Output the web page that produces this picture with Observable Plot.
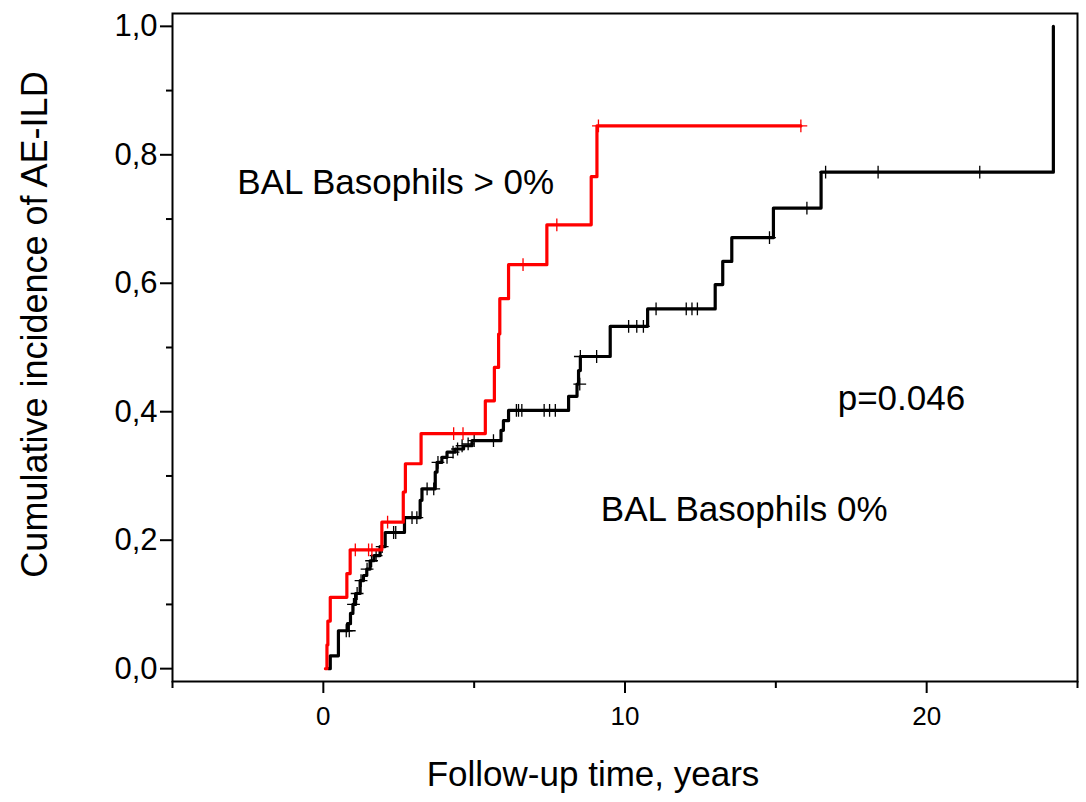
<!DOCTYPE html>
<html>
<head>
<meta charset="utf-8">
<script src="https://cdn.jsdelivr.net/npm/d3@7"></script>
<script src="https://cdn.jsdelivr.net/npm/@observablehq/plot@0.6"></script>
<style>
  html, body { margin: 0; padding: 0; background: #fff; }
  #chart { width: 1086px; height: 802px; }
</style>
</head>
<body>
<div id="chart"></div>
<script>
// ---- Data ----
// BAL Basophils > 0% (red): step points [time, cumulative incidence]
const redTime = [0.07, 0.12, 0.15, 0.23, 0.78, 0.89, 1.94, 2.65, 2.72, 3.24, 5.37, 5.67, 5.81, 5.85, 6.14, 7.41, 8.88, 9.07, 15.83];
const redCum  = [0, 0.037, 0.074, 0.111, 0.148, 0.185, 0.228, 0.275, 0.319, 0.366, 0.417, 0.469, 0.521, 0.576, 0.629, 0.691, 0.766, 0.845, 0.845];
// censored observations, red
const redCensTime = [1.06, 1.50, 1.61, 2.13, 4.32, 4.63, 6.62, 7.74, 9.12, 15.83];
const redCensCum  = [0.185, 0.185, 0.185, 0.228, 0.366, 0.366, 0.629, 0.691, 0.845, 0.845];

// BAL Basophils 0% (black)
const blackTime = [0.17, 0.23, 0.50, 0.80, 0.90, 0.98, 1.07, 1.22, 1.33, 1.44, 1.55, 1.68, 1.88, 2.05, 2.69, 3.21, 3.27, 3.71, 3.77, 3.93, 4.10, 4.37, 4.65, 4.93, 5.89, 5.97, 6.14, 8.13, 8.41, 8.46, 8.52, 9.51, 10.75, 12.99, 13.24, 13.54, 14.92, 16.50, 24.20];
const blackCum  = [0, 0.020, 0.059, 0.070, 0.086, 0.100, 0.117, 0.137, 0.145, 0.155, 0.168, 0.176, 0.190, 0.212, 0.235, 0.262, 0.280, 0.306, 0.321, 0.329, 0.337, 0.342, 0.347, 0.355, 0.371, 0.386, 0.402, 0.424, 0.443, 0.464, 0.486, 0.533, 0.560, 0.598, 0.634, 0.671, 0.717, 0.773, 1.000];
const blackCensTime = [0.76, 0.86, 1.00, 1.12, 1.25, 1.45, 1.60, 1.75, 1.95, 2.33, 2.40, 2.94, 3.10, 3.44, 3.66, 3.80, 4.10, 4.30, 4.45, 4.60, 4.80, 5.00, 5.64, 6.40, 6.47, 6.58, 7.32, 7.50, 7.69, 8.50, 8.52, 9.06, 10.12, 10.39, 10.61, 11.03, 12.03, 12.22, 12.40, 14.79, 16.03, 16.65, 18.39, 21.76];
const blackCensCum  = [0.059, 0.059, 0.100, 0.117, 0.137, 0.155, 0.168, 0.176, 0.190, 0.212, 0.212, 0.235, 0.235, 0.280, 0.280, 0.321, 0.329, 0.337, 0.342, 0.347, 0.350, 0.355, 0.355, 0.402, 0.402, 0.402, 0.402, 0.402, 0.402, 0.443, 0.486, 0.486, 0.533, 0.533, 0.533, 0.560, 0.560, 0.560, 0.560, 0.671, 0.717, 0.773, 0.773, 0.773];

// axis ticks
const xMajor = [0, 10, 20];
const xMinor = [-5, 5, 15, 25];
const yMajor = [0, 0.2, 0.4, 0.6, 0.8, 1.0];
const yMinor = [0.1, 0.3, 0.5, 0.7, 0.9];

// annotations
const annText = ["BAL Basophils > 0%", "p=0.046", "BAL Basophils 0%"];
const annX    = [-2.85, 17.05, 9.2];
const annY    = [0.757, 0.42, 0.248];

const xTitle = "Follow-up time, years";
const yTitle = "Cumulative incidence of AE-ILD";

// ---- Build tables ----
const red = redTime.map((t, i) => ({t, v: redCum[i]}));
const black = blackTime.map((t, i) => ({t, v: blackCum[i]}));
const redC = redCensTime.map((t, i) => ({t, v: redCensCum[i]}));
const blackC = blackCensTime.map((t, i) => ({t, v: blackCensCum[i]}));
const ann = annText.map((s, i) => ({s, x: annX[i], y: annY[i]}));

const font = "Liberation Sans, Arial, Helvetica, sans-serif";

const chart = Plot.plot({
  width: 1086,
  height: 802,
  marginLeft: 172,
  marginRight: 9,
  marginTop: 13,
  marginBottom: 121,
  style: {fontFamily: font, background: "#fff", color: "#000"},
  x: {domain: [-5, 25], label: null},
  y: {domain: [-0.02, 1.02], label: null},
  marks: [
    Plot.axisX({ticks: xMajor, tickSize: 12, tickPadding: 13, fontSize: 26, strokeWidth: 2, label: null, tickFormat: d => String(d)}),
    Plot.axisX({ticks: xMinor, tickSize: 7, strokeWidth: 2, fill: null, label: null}),
    Plot.axisY({ticks: yMajor, tickSize: 12, tickPadding: 3, fontSize: 31, strokeWidth: 2, label: null, tickFormat: d => d.toFixed(1).replace(".", ",")}),
    Plot.axisY({ticks: yMinor, tickSize: 6, strokeWidth: 2, fill: null, label: null}),
    Plot.frame({stroke: "#000", strokeWidth: 2}),
    Plot.line(black, {x: "t", y: "v", curve: "step-after", stroke: "#000", strokeWidth: 3.2}),
    Plot.dot(blackC, {x: "t", y: "v", symbol: "plus", r: 4.2, stroke: "#000", strokeWidth: 1.3}),
    Plot.line(red, {x: "t", y: "v", curve: "step-after", stroke: "#ff0000", strokeWidth: 3.2}),
    Plot.dot(redC, {x: "t", y: "v", symbol: "plus", r: 4.2, stroke: "#ff0000", strokeWidth: 1.3}),
    Plot.text(ann, {x: "x", y: "y", text: "s", textAnchor: "start", fontSize: 35, fill: "#000"}),
    Plot.text([xTitle], {frameAnchor: "bottom", text: d => d, textAnchor: "middle", dx: -32, dy: 104, fontSize: 35, fill: "#000"}),
    Plot.text([yTitle], {frameAnchor: "left", text: d => d, textAnchor: "middle", rotate: -90, dx: -137, dy: -23, fontSize: 36, fill: "#000"})
  ]
});
document.getElementById("chart").appendChild(chart);
</script>
</body>
</html>
